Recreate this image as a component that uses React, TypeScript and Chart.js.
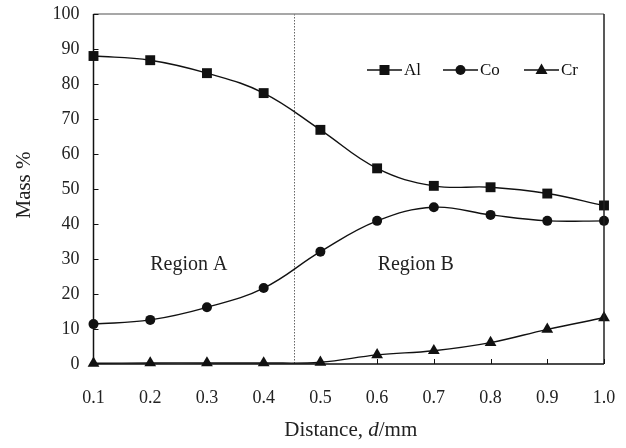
import React, { useEffect, useRef } from "react";
import { Chart, registerables } from "chart.js";

Chart.register(...registerables);

const distances = [0.1, 0.2, 0.3, 0.4, 0.5, 0.6, 0.7, 0.8, 0.9, 1.0];
const alValues = [88.0, 86.8, 83.1, 77.4, 66.9, 55.9, 50.9, 50.5, 48.7, 45.3];
const coValues = [11.4, 12.6, 16.2, 21.7, 32.1, 40.9, 44.8, 42.6, 40.9, 40.9];
const crValues = [0.2, 0.3, 0.3, 0.3, 0.5, 2.6, 3.8, 6.1, 9.9, 13.2];
const seriesNames = ["Al", "Co", "Cr"];
const seriesMarkers = ["rect", "circle", "triangle"];
const markerRadius = [7, 5, 6.8];
const boundaryX = 0.453;
const regionLabels = ["Region A", "Region B"];
const regionLabelX = [0.268, 0.668];
const regionLabelY = 28.5;
const xTitle = ["Distance, ", "d", "/mm"];
const yTitle = "Mass %";

const FONT = "'Liberation Serif', 'Times New Roman', serif";

const decorPlugin = {
  id: "decor",
  beforeDatasetsDraw(chart: any) {
    const { ctx, chartArea, scales } = chart;
    const x = scales.x.getPixelForValue(boundaryX);
    ctx.save();
    ctx.strokeStyle = "#666";
    ctx.lineWidth = 1;
    ctx.setLineDash([1.5, 1.5]);
    ctx.beginPath();
    ctx.moveTo(Math.round(x) + 0.5, chartArea.top);
    ctx.lineTo(Math.round(x) + 0.5, chartArea.bottom);
    ctx.stroke();
    ctx.restore();

    // region labels
    ctx.save();
    ctx.fillStyle = "#222";
    ctx.font = `20px ${FONT}`;
    ctx.textAlign = "center";
    ctx.textBaseline = "middle";
    regionLabels.forEach((t, i) => {
      ctx.fillText(t, scales.x.getPixelForValue(regionLabelX[i]), scales.y.getPixelForValue(regionLabelY));
    });
    ctx.restore();
  },
  afterDraw(chart: any) {
    const { ctx, chartArea, scales } = chart;
    const { left, right, top, bottom } = chartArea;
    ctx.save();
    // top border gray
    ctx.strokeStyle = "#8a8a8a";
    ctx.lineWidth = 1.5;
    ctx.beginPath();
    ctx.moveTo(left, top);
    ctx.lineTo(right, top);
    ctx.stroke();
    // right border
    ctx.strokeStyle = "#222";
    ctx.beginPath();
    ctx.moveTo(right, top);
    ctx.lineTo(right, bottom);
    ctx.stroke();
    // left and bottom axes
    ctx.strokeStyle = "#111";
    ctx.lineWidth = 1.5;
    ctx.beginPath();
    ctx.moveTo(left, top);
    ctx.lineTo(left, bottom);
    ctx.lineTo(right, bottom);
    ctx.stroke();
    // inside ticks
    ctx.lineWidth = 1;
    ctx.beginPath();
    scales.y.ticks.forEach((t: any) => {
      const y = Math.round(scales.y.getPixelForValue(t.value)) + 0.5;
      ctx.moveTo(left, y);
      ctx.lineTo(left + 5, y);
    });
    scales.x.ticks.forEach((t: any) => {
      const x = Math.round(scales.x.getPixelForValue(t.value)) + 0.5;
      ctx.moveTo(x, bottom);
      ctx.lineTo(x, bottom - 5);
    });
    ctx.stroke();

    // legend
    const ly = top + 56;
    const starts = [right - 237, right - 161, right - 80];
    ctx.font = `17px ${FONT}`;
    ctx.textBaseline = "middle";
    ctx.textAlign = "left";
    ctx.fillStyle = "#111";
    starts.forEach((sx, i) => {
      ctx.strokeStyle = "#111";
      ctx.lineWidth = 1.3;
      ctx.beginPath();
      ctx.moveTo(sx, ly);
      ctx.lineTo(sx + 35, ly);
      ctx.stroke();
      const cx = sx + 17.5;
      ctx.beginPath();
      if (seriesMarkers[i] === "rect") {
        ctx.rect(cx - 5, ly - 5, 10, 10);
      } else if (seriesMarkers[i] === "circle") {
        ctx.arc(cx, ly, 5, 0, Math.PI * 2);
      } else {
        ctx.moveTo(cx, ly - 6.5);
        ctx.lineTo(cx + 6, ly + 4);
        ctx.lineTo(cx - 6, ly + 4);
        ctx.closePath();
      }
      ctx.fill();
      ctx.fillText(seriesNames[i], sx + 37, ly + 1);
    });

    // axis titles
    ctx.fillStyle = "#222";
    ctx.font = `21px ${FONT}`;
    ctx.textBaseline = "middle";
    const cxT = (left + right) / 2 + 2;
    const parts = xTitle;
    const w0 = ctx.measureText(parts[0]).width;
    ctx.font = `italic 21px ${FONT}`;
    const w1 = ctx.measureText(parts[1]).width;
    ctx.font = `21px ${FONT}`;
    const w2 = ctx.measureText(parts[2]).width;
    let x0 = cxT - (w0 + w1 + w2) / 2;
    const ty = 430;
    ctx.textAlign = "left";
    ctx.fillText(parts[0], x0, ty);
    ctx.font = `italic 21px ${FONT}`;
    ctx.fillText(parts[1], x0 + w0, ty);
    ctx.font = `21px ${FONT}`;
    ctx.fillText(parts[2], x0 + w0 + w1, ty);

    ctx.translate(24, (top + bottom) / 2 - 4);
    ctx.rotate(-Math.PI / 2);
    ctx.textAlign = "center";
    ctx.fillText(yTitle, 0, 0);
    ctx.restore();
  },
};

const noPad = (s: any) => {
  s.paddingTop = 0;
  s.paddingBottom = 0;
  s.paddingLeft = 0;
  s.paddingRight = 0;
};

export default function App() {
  const ref = useRef<HTMLCanvasElement>(null);
  useEffect(() => {
    document.body.style.margin = "0";
    const mk = (label: string, data: number[], i: number) => ({
      label,
      data: distances.map((d, k) => ({ x: d, y: data[k] })),
      borderColor: "#111",
      backgroundColor: "#111",
      borderWidth: 1.4,
      tension: 0.4,
      pointStyle: seriesMarkers[i],
      pointRadius: markerRadius[i],
      pointBorderWidth: 0,
      pointBackgroundColor: "#111",
      clip: false as any,
    });
    const chart = new Chart(ref.current!, {
      type: "line",
      data: {
        datasets: [mk("Al", alValues, 0), mk("Co", coValues, 1), mk("Cr", crValues, 2)],
      },
      options: {
        animation: false,
        responsive: false,
        devicePixelRatio: 1,
        layout: { padding: { top: 14, right: 22, left: 0, bottom: 0 } },
        plugins: { legend: { display: false }, tooltip: { enabled: false } },
        scales: {
          x: {
            type: "linear",
            min: 0.1,
            max: 1.0,
            afterFit: (s: any) => {
              s.height = 84;
              noPad(s);
            },
            afterBuildTicks: (s: any) => {
              s.ticks = distances.map((v) => ({ value: v }));
            },
            grid: { display: false, drawTicks: false },
            border: { display: false },
            ticks: {
              font: { family: FONT, size: 18 },
              color: "#222",
              padding: 23,
              maxRotation: 0,
              callback: (v: any) => Number(v).toFixed(1),
            },
          },
          y: {
            min: 0,
            max: 100,
            afterFit: (s: any) => {
              s.width = 93.5;
              noPad(s);
            },
            grid: { display: false, drawTicks: false },
            border: { display: false },
            ticks: {
              stepSize: 10,
              font: { family: FONT, size: 18 },
              color: "#222",
              padding: 14,
            },
          },
        },
      },
      plugins: [decorPlugin],
    });
    return () => chart.destroy();
  }, []);
  return (
    <div style={{ position: "absolute", left: 0, top: 0, width: 626, height: 448, background: "#fff" }}>
      <canvas ref={ref} width={626} height={448} />
    </div>
  );
}
